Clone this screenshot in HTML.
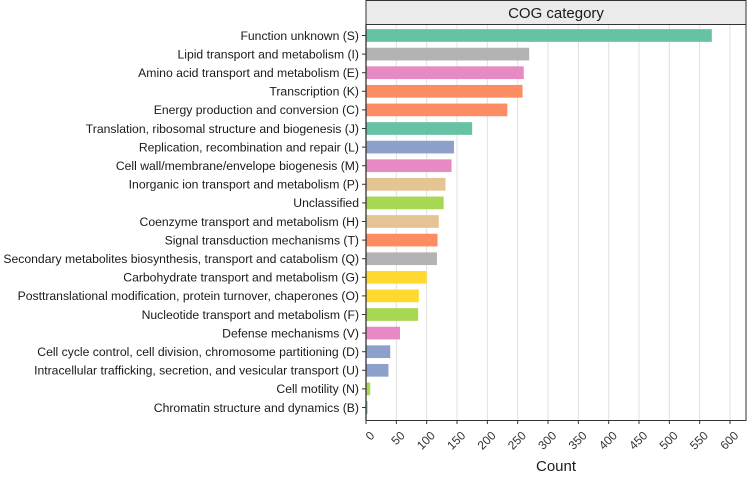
<!DOCTYPE html>
<html><head><meta charset="utf-8"><style>
body{margin:0;background:#fff;font-family:"Liberation Sans",Arial,sans-serif}
svg text{font-family:"Liberation Sans",Arial,sans-serif}
</style></head><body>
<svg id="chart" width="747" height="475" xmlns="http://www.w3.org/2000/svg"></svg>
<script>
const categories=["Function unknown (S)","Lipid transport and metabolism (I)","Amino acid transport and metabolism (E)","Transcription (K)","Energy production and conversion (C)","Translation, ribosomal structure and biogenesis (J)","Replication, recombination and repair (L)","Cell wall/membrane/envelope biogenesis (M)","Inorganic ion transport and metabolism (P)","Unclassified","Coenzyme transport and metabolism (H)","Signal transduction mechanisms (T)","Secondary metabolites biosynthesis, transport and catabolism (Q)","Carbohydrate transport and metabolism (G)","Posttranslational modification, protein turnover, chaperones (O)","Nucleotide transport and metabolism (F)","Defense mechanisms (V)","Cell cycle control, cell division, chromosome partitioning (D)","Intracellular trafficking, secretion, and vesicular transport (U)","Cell motility (N)","Chromatin structure and dynamics (B)"];
const counts=[570,269,260,258,233,175,145,141,131,128,120,118,117,100,87,86,56,40,37,7,2];
const barColors=["#66c2a5","#b3b3b3","#e78ac3","#fc8d62","#fc8d62","#66c2a5","#8da0cb","#e78ac3","#e5c494","#a6d854","#e5c494","#fc8d62","#b3b3b3","#ffd92f","#ffd92f","#a6d854","#e78ac3","#8da0cb","#8da0cb","#a6d854","#66c2a5"];
const ticks=[0,50,100,150,200,250,300,350,400,450,500,550,600];

const NS="http://www.w3.org/2000/svg";
const svg=document.getElementById('chart');
const X0=366,PX=0.6067,TOP=24,BOT=420,RIGHT=746,Y0=35.5,STEP=18.6,BH=12.7;
const xs=v=>X0+v*PX, ys=i=>Y0+i*STEP;
function mk(t,a){const e=document.createElementNS(NS,t);for(const k in a)e.setAttribute(k,a[k]);svg.appendChild(e);return e;}

let strip=mk('rect',{x:X0,y:0.5,width:RIGHT-X0,height:TOP,fill:'#ebebeb',stroke:'#333','stroke-width':1});


let st=mk('text',{x:(X0+RIGHT)/2,y:18,'text-anchor':'middle','font-size':15,fill:'#1a1a1a'});st.textContent='COG category';


let panel=mk('rect',{x:X0,y:TOP+0.5,width:RIGHT-X0,height:BOT-TOP,fill:'#fff',stroke:'#333','stroke-width':1});



ticks.forEach(t=>{
  if(t>0){let g=mk('line',{x1:xs(t),x2:xs(t),y1:TOP+1,y2:BOT,stroke:'#e0e0e0','stroke-width':1});
  
  }
  let tk=mk('line',{x1:xs(t),x2:xs(t),y1:BOT,y2:BOT+4,stroke:'#333'});
  
  
  let lx=xs(t)+3,ly=BOT+10;
  let tl=mk('text',{x:lx,y:ly,'text-anchor':'end','font-size':12,fill:'#333',transform:`rotate(-45 ${lx} ${ly})`,'dominant-baseline':'hanging'});
  tl.textContent=t;
  
  
});

categories.forEach((c,i)=>{
  let y=ys(i);
  let b=mk('rect',{x:X0+0.5,y:y-BH/2,width:Math.max(xs(counts[i])-X0-0.5,1),height:BH,fill:barColors[i]});
  
  
  let tk=mk('line',{x1:X0-4,x2:X0,y1:y,y2:y,stroke:'#333'});
  
  
  let l=mk('text',{x:X0-7,y:y+4.3,'text-anchor':'end','font-size':12.2,fill:'#1a1a1a'});l.textContent=c;
  
  
});
let ax=mk('line',{x1:X0,x2:X0,y1:TOP,y2:BOT,stroke:'#333','stroke-width':1.3});


let xt=mk('text',{x:556,y:471,'text-anchor':'middle','font-size':15,fill:'#1a1a1a'});xt.textContent='Count';


</script>
</body></html>
